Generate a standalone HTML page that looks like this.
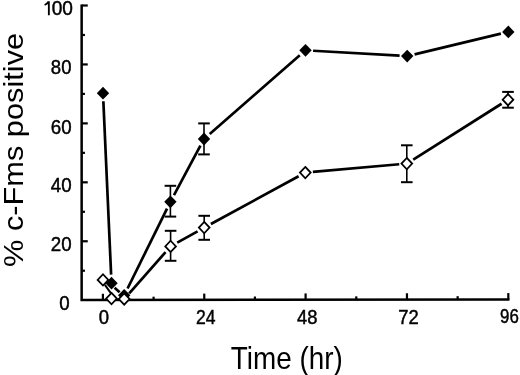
<!DOCTYPE html>
<html><head><meta charset="utf-8"><style>
html,body{margin:0;padding:0;background:#fff;}
svg{display:block;filter:grayscale(100%);}
text{font-family:"Liberation Sans",sans-serif;fill:#000;}
</style></head><body>
<svg width="520" height="375" viewBox="0 0 520 375">
<rect width="520" height="375" fill="#fff"/>
<g stroke="#000" fill="none">
<path d="M81.65 4.4V300.1L509.5 299.4" fill="none" stroke-width="2.5" stroke-linejoin="miter"/>
<line x1="81.65" y1="270.73" x2="84.95" y2="270.73" stroke-width="2.2"/>
<line x1="81.65" y1="241.26" x2="87.75" y2="241.26" stroke-width="2.2"/>
<line x1="81.65" y1="211.79" x2="84.95" y2="211.79" stroke-width="2.2"/>
<line x1="81.65" y1="182.32" x2="87.75" y2="182.32" stroke-width="2.2"/>
<line x1="81.65" y1="152.85" x2="84.95" y2="152.85" stroke-width="2.2"/>
<line x1="81.65" y1="123.38" x2="87.75" y2="123.38" stroke-width="2.2"/>
<line x1="81.65" y1="93.91" x2="84.95" y2="93.91" stroke-width="2.2"/>
<line x1="81.65" y1="64.44" x2="87.75" y2="64.44" stroke-width="2.2"/>
<line x1="81.65" y1="34.97" x2="84.95" y2="34.97" stroke-width="2.2"/>
<line x1="81.65" y1="5.50" x2="87.75" y2="5.50" stroke-width="2.2"/>
<line x1="102.90" y1="300.07" x2="102.90" y2="293.77" stroke-width="2.2"/>
<line x1="153.58" y1="299.98" x2="153.58" y2="296.68" stroke-width="2.2"/>
<line x1="204.25" y1="299.90" x2="204.25" y2="293.60" stroke-width="2.2"/>
<line x1="254.93" y1="299.82" x2="254.93" y2="296.52" stroke-width="2.2"/>
<line x1="305.60" y1="299.73" x2="305.60" y2="293.43" stroke-width="2.2"/>
<line x1="356.28" y1="299.65" x2="356.28" y2="296.35" stroke-width="2.2"/>
<line x1="406.96" y1="299.57" x2="406.96" y2="293.27" stroke-width="2.2"/>
<line x1="457.63" y1="299.48" x2="457.63" y2="296.18" stroke-width="2.2"/>
<line x1="508.31" y1="299.40" x2="508.31" y2="293.10" stroke-width="2.2"/>
<line x1="103.36" y1="101.19" x2="111.12" y2="274.61" stroke-width="2.7" stroke-linecap="butt"/>
<line x1="127.57" y1="288.49" x2="167.03" y2="208.61" stroke-width="2.7" stroke-linecap="butt"/>
<line x1="173.99" y1="195.10" x2="200.41" y2="145.70" stroke-width="2.7" stroke-linecap="butt"/>
<line x1="209.72" y1="134.00" x2="299.78" y2="55.30" stroke-width="2.7" stroke-linecap="butt"/>
<line x1="313.09" y1="50.73" x2="399.61" y2="55.67" stroke-width="2.7" stroke-linecap="butt"/>
<line x1="414.59" y1="54.33" x2="500.91" y2="33.67" stroke-width="2.7" stroke-linecap="butt"/>
<line x1="114.60" y1="287.80" x2="119.60" y2="292.20" stroke-width="2.7" stroke-linecap="butt"/>
<line x1="170.40" y1="185.80" x2="170.40" y2="216.60" stroke-width="1.6" stroke-linecap="butt"/>
<line x1="164.60" y1="185.80" x2="176.20" y2="185.80" stroke-width="2.0" stroke-linecap="butt"/>
<line x1="164.60" y1="216.60" x2="176.20" y2="216.60" stroke-width="2.0" stroke-linecap="butt"/>
<line x1="204.00" y1="123.40" x2="204.00" y2="154.40" stroke-width="1.6" stroke-linecap="butt"/>
<line x1="198.20" y1="123.40" x2="209.80" y2="123.40" stroke-width="2.0" stroke-linecap="butt"/>
<line x1="198.20" y1="154.40" x2="209.80" y2="154.40" stroke-width="2.0" stroke-linecap="butt"/>
<path d="M103.00 86.80L109.20 93.20L103.00 99.60L96.80 93.20Z" fill="#000" stroke="none"/>
<path d="M111.50 276.80L117.70 283.20L111.50 289.60L105.30 283.20Z" fill="#000" stroke="none"/>
<path d="M124.20 288.90L130.40 295.30L124.20 301.70L118.00 295.30Z" fill="#000" stroke="none"/>
<path d="M170.40 195.40L176.60 201.80L170.40 208.20L164.20 201.80Z" fill="#000" stroke="none"/>
<path d="M204.00 132.60L210.20 139.00L204.00 145.40L197.80 139.00Z" fill="#000" stroke="none"/>
<path d="M305.50 43.90L311.70 50.30L305.50 56.70L299.30 50.30Z" fill="#000" stroke="none"/>
<path d="M407.20 49.70L413.40 56.10L407.20 62.50L401.00 56.10Z" fill="#000" stroke="none"/>
<path d="M508.30 25.50L514.50 31.90L508.30 38.30L502.10 31.90Z" fill="#000" stroke="none"/>
<line x1="129.23" y1="293.30" x2="165.57" y2="252.10" stroke-width="2.7" stroke-linecap="butt"/>
<line x1="177.23" y1="242.69" x2="197.57" y2="231.31" stroke-width="2.7" stroke-linecap="butt"/>
<line x1="210.88" y1="223.97" x2="298.62" y2="176.23" stroke-width="2.7" stroke-linecap="butt"/>
<line x1="312.87" y1="171.93" x2="399.23" y2="164.27" stroke-width="2.7" stroke-linecap="butt"/>
<line x1="413.23" y1="159.54" x2="501.57" y2="103.76" stroke-width="2.7" stroke-linecap="butt"/>
<line x1="104.90" y1="284.90" x2="111.00" y2="293.30" stroke-width="2.0" stroke-linecap="butt"/>
<line x1="170.60" y1="230.80" x2="170.60" y2="260.80" stroke-width="1.6" stroke-linecap="butt"/>
<line x1="164.80" y1="230.80" x2="176.40" y2="230.80" stroke-width="2.0" stroke-linecap="butt"/>
<line x1="164.80" y1="260.80" x2="176.40" y2="260.80" stroke-width="2.0" stroke-linecap="butt"/>
<line x1="204.20" y1="215.80" x2="204.20" y2="239.80" stroke-width="1.6" stroke-linecap="butt"/>
<line x1="198.40" y1="215.80" x2="210.00" y2="215.80" stroke-width="2.0" stroke-linecap="butt"/>
<line x1="198.40" y1="239.80" x2="210.00" y2="239.80" stroke-width="2.0" stroke-linecap="butt"/>
<line x1="406.80" y1="145.30" x2="406.80" y2="182.20" stroke-width="1.6" stroke-linecap="butt"/>
<line x1="401.00" y1="145.30" x2="412.60" y2="145.30" stroke-width="2.0" stroke-linecap="butt"/>
<line x1="401.00" y1="182.20" x2="412.60" y2="182.20" stroke-width="2.0" stroke-linecap="butt"/>
<line x1="508.00" y1="91.90" x2="508.00" y2="107.70" stroke-width="1.6" stroke-linecap="butt"/>
<line x1="502.20" y1="91.90" x2="513.80" y2="91.90" stroke-width="2.0" stroke-linecap="butt"/>
<line x1="502.20" y1="107.70" x2="513.80" y2="107.70" stroke-width="2.0" stroke-linecap="butt"/>
<path d="M103.00 274.25L108.35 279.90L103.00 285.55L97.65 279.90Z" fill="#fff" stroke="#000" stroke-width="1.8"/>
<path d="M111.50 292.95L116.85 298.60L111.50 304.25L106.15 298.60Z" fill="#fff" stroke="#000" stroke-width="1.8"/>
<path d="M124.20 293.35L129.55 299.00L124.20 304.65L118.85 299.00Z" fill="#fff" stroke="#000" stroke-width="1.8"/>
<path d="M170.60 240.75L175.95 246.40L170.60 252.05L165.25 246.40Z" fill="#fff" stroke="#000" stroke-width="1.8"/>
<path d="M204.20 221.95L209.55 227.60L204.20 233.25L198.85 227.60Z" fill="#fff" stroke="#000" stroke-width="1.8"/>
<path d="M305.30 166.95L310.65 172.60L305.30 178.25L299.95 172.60Z" fill="#fff" stroke="#000" stroke-width="1.8"/>
<path d="M406.80 157.95L412.15 163.60L406.80 169.25L401.45 163.60Z" fill="#fff" stroke="#000" stroke-width="1.8"/>
<path d="M508.00 94.05L513.35 99.70L508.00 105.35L502.65 99.70Z" fill="#fff" stroke="#000" stroke-width="1.8"/>
</g>
<text transform="translate(51.63,15.10) scale(0.9565,1.0211)" font-size="20" stroke="#000" stroke-width="0.45">00</text>
<text transform="translate(50.87,74.30) scale(0.9272,1.0141)" font-size="20" stroke="#000" stroke-width="0.45">80</text>
<text transform="translate(50.76,133.59) scale(0.9366,1.0282)" font-size="20" stroke="#000" stroke-width="0.45">60</text>
<text transform="translate(50.73,192.39) scale(0.9381,1.0282)" font-size="20" stroke="#000" stroke-width="0.45">40</text>
<text transform="translate(50.76,251.30) scale(0.9366,1.0211)" font-size="20" stroke="#000" stroke-width="0.45">20</text>
<text transform="translate(59.35,310.19) scale(0.9368,1.0282)" font-size="20" stroke="#000" stroke-width="0.45">0</text>
<text transform="translate(98.86,323.90) scale(0.9263,1.0211)" font-size="20" stroke="#000" stroke-width="0.45">0</text>
<text transform="translate(195.92,323.90) scale(0.8792,1.0071)" font-size="20" stroke="#000" stroke-width="0.45">24</text>
<text transform="translate(296.94,323.50) scale(0.9187,1.0070)" font-size="20" stroke="#000" stroke-width="0.45">48</text>
<text transform="translate(398.28,323.70) scale(0.9208,1.0286)" font-size="20" stroke="#000" stroke-width="0.45">72</text>
<text transform="translate(500.04,323.10) scale(0.8439,1.0070)" font-size="20" stroke="#000" stroke-width="0.45">96</text>
<path d="M48.85 15.3V1.2M48.7 1.5C47.9 3.2 46.5 4.3 44.6 5.0" fill="none" stroke="#000" stroke-width="1.85"/>
<text transform="translate(230.70,368.7) scale(0.8829,1)" font-size="31.6">Time (hr)</text>
<text transform="translate(22.6,266.88) rotate(-90) scale(1,0.8943)" font-size="30.75">% c-Fms positive</text>
</svg>
</body></html>
